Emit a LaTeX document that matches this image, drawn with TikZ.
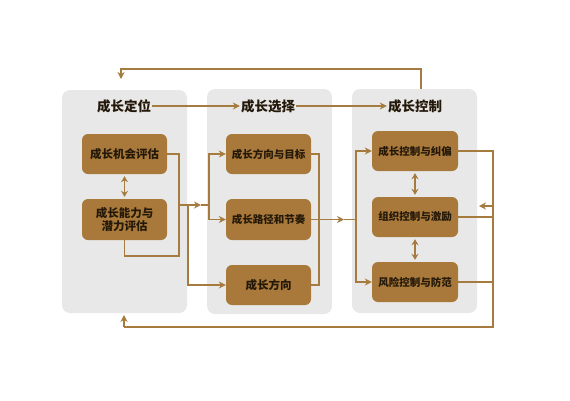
\documentclass[tikz,border=0pt]{standalone}
\usepackage{fontspec}
\newfontfamily\cjkb{Noto Sans CJK SC Black}
\usetikzlibrary{arrows.meta}
\definecolor{boxfill}{HTML}{A8793A}
\definecolor{linec}{HTML}{A67B3F}
\definecolor{panelc}{HTML}{E8E8E8}
\definecolor{txtc}{HTML}{241809}
\tikzset{
  panel/.style={fill=panelc, rounded corners=8pt, draw=none},
  ttl/.style={font=\cjkb\fontsize{13.5}{14}\selectfont, text=txtc, inner sep=1pt},
  bx/.style={fill=boxfill, rounded corners=6pt, minimum width=85pt, minimum height=40pt,
    font=\cjkb\fontsize{10.5}{12.5}\selectfont, text=txtc, align=center, inner sep=1pt},
  bxl/.style={bx, font=\cjkb\fontsize{11.5}{13.5}\selectfont},
  conn/.style={draw=linec, line width=1.7pt},
  arr/.style={conn, -{Stealth[length=7pt,width=7pt]}},
  darr/.style={conn, {Stealth[length=6pt,width=7pt]}-{Stealth[length=6pt,width=7pt]}, shorten <=2pt, shorten >=2pt}
}
\begin{document}
\begin{tikzpicture}[x=1pt,y=-1pt]
\useasboundingbox (0,0) rectangle (570,400);
% panels
\node[panel, minimum width=125pt, minimum height=223pt] (p1) at (124.5,201.5) {};
\node[panel, minimum width=125pt, minimum height=225pt] (p2) at (269.5,201.5) {};
\node[panel, minimum width=125pt, minimum height=224pt] (p3) at (414.5,201) {};
% titles
\node[ttl] (t1) at (124,106) {成长定位};
\node[ttl] (t2) at (268,106) {成长选择};
\node[ttl] (t3) at (415,106) {成长控制};
% boxes
\node[bxl] (a1) at (124.5,154) {成长机会评估};
\node[bxl, minimum height=41pt] (a2) at (124.5,219.5) {成长能力与\\潜力评估};
\node[bx] (b1) at (268.5,154) {成长方向与目标};
\node[bx, minimum height=41pt] (b2) at (268.5,219.5) {成长路径和节奏};
\node[bxl] (b3) at (268.5,285) {成长方向};
\node[bx, minimum width=86pt] (c1) at (415,151) {成长控制与纠偏};
\node[bx, minimum width=86pt] (c2) at (415,217) {组织控制与激励};
\node[bx, minimum width=86pt] (c3) at (415,282) {风险控制与防范};
% coordinates
\coordinate (j1) at (179,205);
\coordinate (j1b) at (179,256);
\coordinate (j3) at (188,205);
\coordinate (m1) at (201,205);
\coordinate (j2) at (209,205);
\coordinate (k1) at (319,219.5);
\coordinate (m2) at (344,219.5);
\coordinate (k2) at (356,219.5);
\coordinate (r1) at (493,217);
\coordinate (r2) at (493,206);
\coordinate (r2e) at (479,206);
\coordinate (rb) at (493,327);
\coordinate (pb) at (124,327);
\coordinate (pbe) at (124,315);
\coordinate (u0) at (421,89);
\coordinate (u1) at (421,69);
\coordinate (u2) at (121,69);
\coordinate (u3) at (121,79);
% title arrows
\draw[arr] (t1) -- (t2);
\draw[arr] (t2) -- (t3);
% panel 1
\draw[darr] (a1) -- (a2);
\draw[conn] (a1.east) -| (j1b) -| (a2.south);
\draw[arr] (j1) -- (m1);
\draw[conn] (m1) -- (j2);
\draw[arr] (j2) |- (b1.west);
\draw[arr] (j2) |- (b2.west);
\draw[arr] (j3) |- (b3.west);
% panel 2
\draw[conn] (b1.east) -| (k1) |- (b3.east);
\draw[conn] (b2.east) -- (k1);
\draw[arr] (k1) -- (m2);
\draw[conn] (m2) -- (k2);
\draw[arr] (k2) |- (c1.west);
\draw[arr] (k2) |- (c3.west);
% panel 3
\draw[darr] (c1) -- (c2);
\draw[darr] (c2) -- (c3);
\draw[conn] (c1.east) -| (rb) -- (pb);
\draw[arr] (pb) -- (pbe);
\draw[conn] (c2.east) -- (r1);
\draw[conn] (c3.east) -- (c3.east -| rb);
\draw[arr] (r2) -- (r2e);
% top loop
\draw[arr] (u0) -- (u1) -- (u2) -- (u3);
\end{tikzpicture}
\end{document}
